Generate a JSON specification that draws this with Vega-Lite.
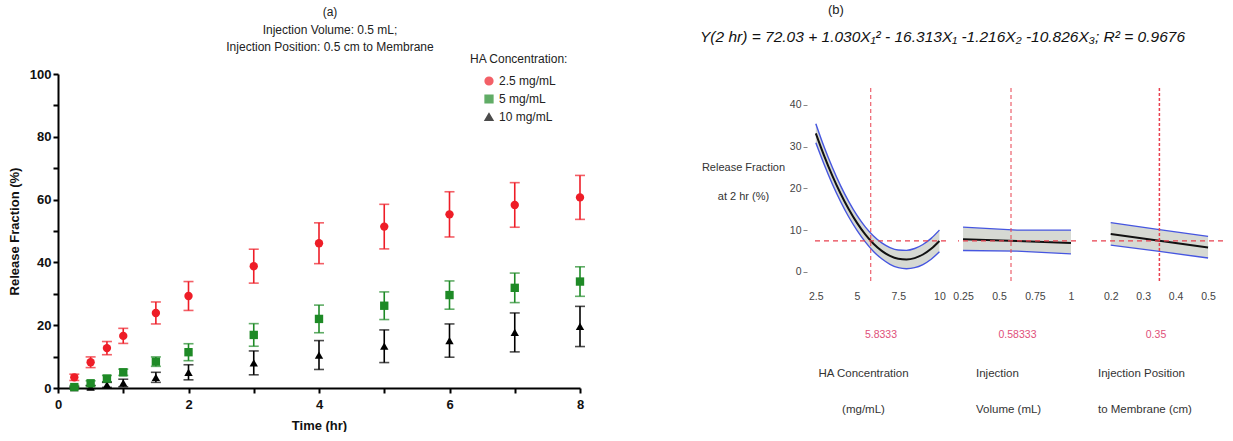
{
  "$schema": "https://vega.github.io/schema/vega-lite/v6.json",
  "background": "white",
  "padding": {"left": 8, "top": 3, "right": 4, "bottom": 0},
  "config": {"view": {"stroke": null}, "axis": {"grid": false}},
  "datasets": {
    "release": [
      {"t": 0.25, "conc": "10 mg/mL", "val": 0.1, "err": 0.3},
      {"t": 0.5, "conc": "10 mg/mL", "val": 0.3, "err": 0.5},
      {"t": 0.75, "conc": "10 mg/mL", "val": 1.0, "err": 0.8},
      {"t": 1, "conc": "10 mg/mL", "val": 1.6, "err": 1.2},
      {"t": 1.5, "conc": "10 mg/mL", "val": 3.4, "err": 1.6},
      {"t": 2, "conc": "10 mg/mL", "val": 5.0, "err": 2.4},
      {"t": 3, "conc": "10 mg/mL", "val": 8.0, "err": 3.8},
      {"t": 4, "conc": "10 mg/mL", "val": 10.5, "err": 4.6},
      {"t": 5, "conc": "10 mg/mL", "val": 13.3, "err": 5.2},
      {"t": 6, "conc": "10 mg/mL", "val": 15.1, "err": 5.3},
      {"t": 7, "conc": "10 mg/mL", "val": 17.7, "err": 6.2},
      {"t": 8, "conc": "10 mg/mL", "val": 19.6, "err": 6.4},
      {"t": 0.25, "conc": "5 mg/mL", "val": 0.3, "err": 0.5},
      {"t": 0.5, "conc": "5 mg/mL", "val": 1.5, "err": 0.8},
      {"t": 0.75, "conc": "5 mg/mL", "val": 3.0, "err": 1.0},
      {"t": 1, "conc": "5 mg/mL", "val": 5.0, "err": 1.0},
      {"t": 1.5, "conc": "5 mg/mL", "val": 8.4, "err": 1.5},
      {"t": 2, "conc": "5 mg/mL", "val": 11.4, "err": 2.7},
      {"t": 3, "conc": "5 mg/mL", "val": 16.9, "err": 3.6},
      {"t": 4, "conc": "5 mg/mL", "val": 22.0, "err": 4.4},
      {"t": 5, "conc": "5 mg/mL", "val": 26.2, "err": 4.4},
      {"t": 6, "conc": "5 mg/mL", "val": 29.6, "err": 4.5},
      {"t": 7, "conc": "5 mg/mL", "val": 31.9, "err": 4.7},
      {"t": 8, "conc": "5 mg/mL", "val": 33.9, "err": 4.7},
      {"t": 0.25, "conc": "2.5 mg/mL", "val": 3.4, "err": 1.0},
      {"t": 0.5, "conc": "2.5 mg/mL", "val": 8.2, "err": 1.7},
      {"t": 0.75, "conc": "2.5 mg/mL", "val": 12.7, "err": 2.1},
      {"t": 1, "conc": "2.5 mg/mL", "val": 16.6, "err": 2.4},
      {"t": 1.5, "conc": "2.5 mg/mL", "val": 23.9, "err": 3.5},
      {"t": 2, "conc": "2.5 mg/mL", "val": 29.3, "err": 4.6},
      {"t": 3, "conc": "2.5 mg/mL", "val": 38.8, "err": 5.4},
      {"t": 4, "conc": "2.5 mg/mL", "val": 46.1, "err": 6.5},
      {"t": 5, "conc": "2.5 mg/mL", "val": 51.4, "err": 7.1},
      {"t": 6, "conc": "2.5 mg/mL", "val": 55.3, "err": 7.2},
      {"t": 7, "conc": "2.5 mg/mL", "val": 58.3, "err": 7.1},
      {"t": 8, "conc": "2.5 mg/mL", "val": 60.7, "err": 7.0}
    ],
    "p1": [
      {"x": 2.5, "y": 33.19, "lo": 30.9, "hi": 35.5},
      {"x": 3, "y": 27.86, "lo": 25.76, "hi": 29.96},
      {"x": 3.5, "y": 23.05, "lo": 21.05, "hi": 25.05},
      {"x": 4, "y": 18.76, "lo": 16.86, "hi": 20.66},
      {"x": 4.5, "y": 14.98, "lo": 13.13, "hi": 16.83},
      {"x": 5, "y": 11.72, "lo": 9.92, "hi": 13.52},
      {"x": 5.5, "y": 8.97, "lo": 7.17, "hi": 10.77},
      {"x": 6, "y": 6.73, "lo": 4.88, "hi": 8.58},
      {"x": 6.5, "y": 5.02, "lo": 3.12, "hi": 6.92},
      {"x": 7, "y": 3.81, "lo": 1.81, "hi": 5.81},
      {"x": 7.5, "y": 3.12, "lo": 1.02, "hi": 5.22},
      {"x": 8, "y": 2.95, "lo": 0.75, "hi": 5.15},
      {"x": 8.5, "y": 3.29, "lo": 0.99, "hi": 5.59},
      {"x": 9, "y": 4.15, "lo": 1.75, "hi": 6.55},
      {"x": 9.5, "y": 5.52, "lo": 3.02, "hi": 8.02},
      {"x": 10, "y": 7.40, "lo": 4.8, "hi": 10.0}
    ],
    "p2": [
      {"x": 0.25, "y": 7.83, "lo": 5.1, "hi": 10.7},
      {"x": 0.625, "y": 7.37, "lo": 4.95, "hi": 10.0},
      {"x": 1, "y": 6.91, "lo": 4.3, "hi": 10.0}
    ],
    "p3": [
      {"x": 0.2, "y": 9.05, "lo": 6.4, "hi": 11.8},
      {"x": 0.35, "y": 7.42, "lo": 4.9, "hi": 10.1},
      {"x": 0.5, "y": 5.80, "lo": 3.3, "hi": 8.5}
    ],
    "c1": [{"xref": 5.8333, "yref": 7.42, "ylo": -2.2, "yhi": 44.3}],
    "c2": [{"xref": 0.58333, "yref": 7.42, "ylo": -2.2, "yhi": 44.3}],
    "c3": [{"xref": 0.35, "yref": 7.42, "ylo": -2.2, "yhi": 44.3}]
  },
  "spacing": 115,
  "hconcat": [
    {
      "width": 522,
      "height": 314,
      "title": {"text": ["(a)", "Injection Volume: 0.5 mL;", "Injection Position: 0.5 cm to Membrane"], "font": "Liberation Sans", "fontSize": 12, "fontWeight": "normal", "color": "#222", "lineHeight": 17.5, "anchor": "middle", "frame": "group", "dx": 11, "offset": 14},
      "data": {"name": "release"},
      "layer": [
        {
          "mark": {"type": "errorbar", "ticks": {"size": 10, "thickness": 1.6}, "thickness": 1.6},
          "encoding": {
            "x": {"field": "t", "type": "quantitative", "scale": {"domain": [0, 8], "nice": false}, "axis": {"title": "Time (hr)", "values": [0, 1, 2, 3, 4, 5, 6, 7, 8], "labelExpr": "datum.value % 2 === 0 ? datum.label : ''", "labelFlush": false, "domainColor": "#000", "domainWidth": 2, "tickColor": "#000", "tickWidth": 2, "tickSize": 5, "labelFont": "Liberation Sans", "labelFontSize": 13, "labelFontWeight": "bold", "labelColor": "#111", "labelPadding": 5, "titleFont": "Liberation Sans", "titleFontSize": 13, "titleFontWeight": "bold", "titleColor": "#111", "titlePadding": 8}},
            "y": {"field": "val", "type": "quantitative", "scale": {"domain": [0, 100], "nice": false}, "axis": {"title": "Release Fraction (%)", "values": [0, 10, 20, 30, 40, 50, 60, 70, 80, 90, 100], "labelExpr": "datum.value % 20 === 0 ? datum.label : ''", "domainColor": "#000", "domainWidth": 2, "tickColor": "#000", "tickWidth": 2, "tickSize": 5, "labelFont": "Liberation Sans", "labelFontSize": 13, "labelFontWeight": "bold", "labelColor": "#111", "labelPadding": 2, "titleFont": "Liberation Sans", "titleFontSize": 13, "titleFontWeight": "bold", "titleColor": "#111", "titlePadding": 8}},
            "yError": {"field": "err"},
            "color": {"field": "conc", "type": "nominal", "scale": {"domain": ["2.5 mg/mL", "5 mg/mL", "10 mg/mL"], "range": ["#ee1d27", "#1e8a26", "#000000"]}}
          }
        },
        {
          "mark": {"type": "point", "filled": true, "size": 70, "opacity": 1},
          "encoding": {
            "x": {"field": "t", "type": "quantitative", "scale": {"domain": [0, 8], "nice": false}, "axis": {"title": "Time (hr)", "values": [0, 1, 2, 3, 4, 5, 6, 7, 8], "labelExpr": "datum.value % 2 === 0 ? datum.label : ''", "labelFlush": false, "domainColor": "#000", "domainWidth": 2, "tickColor": "#000", "tickWidth": 2, "tickSize": 5, "labelFont": "Liberation Sans", "labelFontSize": 13, "labelFontWeight": "bold", "labelColor": "#111", "labelPadding": 5, "titleFont": "Liberation Sans", "titleFontSize": 13, "titleFontWeight": "bold", "titleColor": "#111", "titlePadding": 8}},
            "y": {"field": "val", "type": "quantitative", "scale": {"domain": [0, 100], "nice": false}, "axis": {"title": "Release Fraction (%)", "values": [0, 10, 20, 30, 40, 50, 60, 70, 80, 90, 100], "labelExpr": "datum.value % 20 === 0 ? datum.label : ''", "domainColor": "#000", "domainWidth": 2, "tickColor": "#000", "tickWidth": 2, "tickSize": 5, "labelFont": "Liberation Sans", "labelFontSize": 13, "labelFontWeight": "bold", "labelColor": "#111", "labelPadding": 2, "titleFont": "Liberation Sans", "titleFontSize": 13, "titleFontWeight": "bold", "titleColor": "#111", "titlePadding": 8}},
            "color": {"field": "conc", "type": "nominal", "scale": {"domain": ["2.5 mg/mL", "5 mg/mL", "10 mg/mL"], "range": ["#ee1d27", "#1e8a26", "#000000"]}, "legend": {"orient": "none", "legendX": 412, "legendY": -20, "title": "HA Concentration:", "titleFont": "Liberation Sans", "titleFontSize": 12, "titleFontWeight": "normal", "titleColor": "#222", "titlePadding": 9, "labelFont": "Liberation Sans", "labelFontSize": 12, "labelColor": "#222", "symbolSize": 60, "rowPadding": 4, "symbolOffset": 13}},
            "shape": {"field": "conc", "type": "nominal", "scale": {"domain": ["2.5 mg/mL", "5 mg/mL", "10 mg/mL"], "range": ["circle", "square", "triangle-up"]}, "legend": {"orient": "none", "legendX": 412, "legendY": -20, "title": "HA Concentration:", "titleFont": "Liberation Sans", "titleFontSize": 12, "titleFontWeight": "normal", "titleColor": "#222", "titlePadding": 9, "labelFont": "Liberation Sans", "labelFontSize": 12, "labelColor": "#222", "symbolSize": 60, "rowPadding": 4, "symbolOffset": 13}}
          }
        }
      ]
    },
    {
      "title": {"text": "(b)", "anchor": "start", "frame": "bounds", "dx": 128, "font": "Liberation Sans", "fontSize": 13, "fontWeight": "normal", "color": "#222", "offset": 13},
      "vconcat": [
        {
          "title": {"text": "Y(2 hr) = 72.03 + 1.030X₁² - 16.313X₁ -1.216X₂ -10.826X₃; R² = 0.9676", "font": "Liberation Sans", "fontStyle": "italic", "fontSize": 15.5, "fontWeight": "normal", "color": "#111", "anchor": "middle", "frame": "bounds", "dx": -20, "offset": 29},
          "spacing": 12,
          "bounds": "flush",
          "hconcat": [
            {
              "width": 131,
              "height": 207,
              "title": {"text": ["HA Concentration", "(mg/mL)"], "orient": "bottom", "anchor": "middle", "frame": "group", "dx": -17, "font": "Liberation Sans", "fontSize": 11.5, "fontWeight": "normal", "color": "#333", "lineHeight": 36, "offset": 28},
              "layer": [
                {"data": {"name": "p1"}, "mark": {"type": "area", "color": "#d6d9d3", "interpolate": "monotone"},
                 "encoding": {
                   "x": {"field": "x", "type": "quantitative", "scale": {"domain": [2.45, 10.4], "nice": false, "zero": false}, "axis": {"title": "5.8333", "values": [2.5, 5, 7.5, 10], "labelExpr": "datum.value + ''", "labelFlush": false, "domain": false, "ticks": false, "tickSize": 0, "labelPadding": 10, "labelFont": "Liberation Sans", "labelFontSize": 10.5, "labelColor": "#444", "titleFont": "Liberation Sans", "titleFontSize": 10.5, "titleFontWeight": "normal", "titleColor": "#e0507a", "titlePadding": 28}},
                   "y": {"field": "lo", "type": "quantitative", "scale": {"domain": [-2.2, 47.4], "nice": false, "zero": false}, "axis": {"title": ["Release Fraction", "at 2 hr (%)"], "titleAngle": 0, "titleAlign": "center", "titleBaseline": "middle", "titleX": -64, "titleY": 93, "titleLineHeight": 29, "titleFont": "Liberation Sans", "titleFontSize": 11, "titleFontWeight": "normal", "titleColor": "#333", "values": [0, 10, 20, 30, 40], "domain": false, "offset": 8, "tickSize": 4, "tickColor": "#888", "labelPadding": 2, "labelFont": "Liberation Sans", "labelFontSize": 10.5, "labelColor": "#444"}},
                   "y2": {"field": "hi"}
                 }},
                {"data": {"name": "p1"}, "mark": {"type": "line", "color": "#4656e0", "strokeWidth": 1.4, "interpolate": "monotone"},
                 "encoding": {
                   "x": {"field": "x", "type": "quantitative", "scale": {"domain": [2.45, 10.4], "nice": false, "zero": false}, "axis": {"title": "5.8333", "values": [2.5, 5, 7.5, 10], "labelExpr": "datum.value + ''", "labelFlush": false, "domain": false, "ticks": false, "tickSize": 0, "labelPadding": 10, "labelFont": "Liberation Sans", "labelFontSize": 10.5, "labelColor": "#444", "titleFont": "Liberation Sans", "titleFontSize": 10.5, "titleFontWeight": "normal", "titleColor": "#e0507a", "titlePadding": 28}},
                   "y": {"field": "lo", "type": "quantitative", "scale": {"domain": [-2.2, 47.4], "nice": false, "zero": false}, "axis": {"title": ["Release Fraction", "at 2 hr (%)"], "titleAngle": 0, "titleAlign": "center", "titleBaseline": "middle", "titleX": -64, "titleY": 93, "titleLineHeight": 29, "titleFont": "Liberation Sans", "titleFontSize": 11, "titleFontWeight": "normal", "titleColor": "#333", "values": [0, 10, 20, 30, 40], "domain": false, "offset": 8, "tickSize": 4, "tickColor": "#888", "labelPadding": 2, "labelFont": "Liberation Sans", "labelFontSize": 10.5, "labelColor": "#444"}}
                 }},
                {"data": {"name": "p1"}, "mark": {"type": "line", "color": "#4656e0", "strokeWidth": 1.4, "interpolate": "monotone"},
                 "encoding": {
                   "x": {"field": "x", "type": "quantitative", "scale": {"domain": [2.45, 10.4], "nice": false, "zero": false}, "axis": {"title": "5.8333", "values": [2.5, 5, 7.5, 10], "labelExpr": "datum.value + ''", "labelFlush": false, "domain": false, "ticks": false, "tickSize": 0, "labelPadding": 10, "labelFont": "Liberation Sans", "labelFontSize": 10.5, "labelColor": "#444", "titleFont": "Liberation Sans", "titleFontSize": 10.5, "titleFontWeight": "normal", "titleColor": "#e0507a", "titlePadding": 28}},
                   "y": {"field": "hi", "type": "quantitative", "scale": {"domain": [-2.2, 47.4], "nice": false, "zero": false}, "axis": {"title": ["Release Fraction", "at 2 hr (%)"], "titleAngle": 0, "titleAlign": "center", "titleBaseline": "middle", "titleX": -64, "titleY": 93, "titleLineHeight": 29, "titleFont": "Liberation Sans", "titleFontSize": 11, "titleFontWeight": "normal", "titleColor": "#333", "values": [0, 10, 20, 30, 40], "domain": false, "offset": 8, "tickSize": 4, "tickColor": "#888", "labelPadding": 2, "labelFont": "Liberation Sans", "labelFontSize": 10.5, "labelColor": "#444"}}
                 }},
                {"data": {"name": "p1"}, "mark": {"type": "line", "color": "#111111", "strokeWidth": 2, "interpolate": "monotone"},
                 "encoding": {
                   "x": {"field": "x", "type": "quantitative", "scale": {"domain": [2.45, 10.4], "nice": false, "zero": false}, "axis": {"title": "5.8333", "values": [2.5, 5, 7.5, 10], "labelExpr": "datum.value + ''", "labelFlush": false, "domain": false, "ticks": false, "tickSize": 0, "labelPadding": 10, "labelFont": "Liberation Sans", "labelFontSize": 10.5, "labelColor": "#444", "titleFont": "Liberation Sans", "titleFontSize": 10.5, "titleFontWeight": "normal", "titleColor": "#e0507a", "titlePadding": 28}},
                   "y": {"field": "y", "type": "quantitative", "scale": {"domain": [-2.2, 47.4], "nice": false, "zero": false}, "axis": {"title": ["Release Fraction", "at 2 hr (%)"], "titleAngle": 0, "titleAlign": "center", "titleBaseline": "middle", "titleX": -64, "titleY": 93, "titleLineHeight": 29, "titleFont": "Liberation Sans", "titleFontSize": 11, "titleFontWeight": "normal", "titleColor": "#333", "values": [0, 10, 20, 30, 40], "domain": false, "offset": 8, "tickSize": 4, "tickColor": "#888", "labelPadding": 2, "labelFont": "Liberation Sans", "labelFontSize": 10.5, "labelColor": "#444"}}
                 }},
                {"data": {"name": "c1"}, "mark": {"type": "rule", "color": "#e8404f", "strokeDash": [5, 4], "strokeWidth": 1.2},
                 "encoding": {
                   "y": {"field": "yref", "type": "quantitative", "scale": {"domain": [-2.2, 47.4], "nice": false, "zero": false}, "axis": {"title": ["Release Fraction", "at 2 hr (%)"], "titleAngle": 0, "titleAlign": "center", "titleBaseline": "middle", "titleX": -64, "titleY": 93, "titleLineHeight": 29, "titleFont": "Liberation Sans", "titleFontSize": 11, "titleFontWeight": "normal", "titleColor": "#333", "values": [0, 10, 20, 30, 40], "domain": false, "offset": 8, "tickSize": 4, "tickColor": "#888", "labelPadding": 2, "labelFont": "Liberation Sans", "labelFontSize": 10.5, "labelColor": "#444"}}
                 }},
                {"data": {"name": "c1"}, "mark": {"type": "rule", "color": "#e8404f", "strokeDash": [4, 3], "strokeWidth": 1},
                 "encoding": {
                   "x": {"field": "xref", "type": "quantitative", "scale": {"domain": [2.45, 10.4], "nice": false, "zero": false}, "axis": {"title": "5.8333", "values": [2.5, 5, 7.5, 10], "labelExpr": "datum.value + ''", "labelFlush": false, "domain": false, "ticks": false, "tickSize": 0, "labelPadding": 10, "labelFont": "Liberation Sans", "labelFontSize": 10.5, "labelColor": "#444", "titleFont": "Liberation Sans", "titleFontSize": 10.5, "titleFontWeight": "normal", "titleColor": "#e0507a", "titlePadding": 28}},
                   "y": {"field": "ylo", "type": "quantitative", "scale": {"domain": [-2.2, 47.4], "nice": false, "zero": false}, "axis": {"title": ["Release Fraction", "at 2 hr (%)"], "titleAngle": 0, "titleAlign": "center", "titleBaseline": "middle", "titleX": -64, "titleY": 93, "titleLineHeight": 29, "titleFont": "Liberation Sans", "titleFontSize": 11, "titleFontWeight": "normal", "titleColor": "#333", "values": [0, 10, 20, 30, 40], "domain": false, "offset": 8, "tickSize": 4, "tickColor": "#888", "labelPadding": 2, "labelFont": "Liberation Sans", "labelFontSize": 10.5, "labelColor": "#444"}},
                   "y2": {"field": "yhi"}
                 }}
              ]
            },
            {
              "width": 118,
              "height": 207,
              "title": {"text": ["Injection", "Volume (mL)"], "orient": "bottom", "anchor": "start", "align": "left", "frame": "group", "dx": 18, "font": "Liberation Sans", "fontSize": 11.5, "fontWeight": "normal", "color": "#333", "lineHeight": 36, "offset": 28},
              "layer": [
                {"data": {"name": "p2"}, "mark": {"type": "area", "color": "#d6d9d3"},
                 "encoding": {
                   "x": {"field": "x", "type": "quantitative", "scale": {"domain": [0.215, 1.035], "nice": false, "zero": false}, "axis": {"title": "0.58333", "values": [0.25, 0.5, 0.75, 1], "labelExpr": "datum.value + ''", "labelFlush": false, "domain": false, "ticks": false, "tickSize": 0, "labelPadding": 10, "labelFont": "Liberation Sans", "labelFontSize": 10.5, "labelColor": "#444", "titleFont": "Liberation Sans", "titleFontSize": 10.5, "titleFontWeight": "normal", "titleColor": "#e0507a", "titlePadding": 28}},
                   "y": {"field": "lo", "type": "quantitative", "scale": {"domain": [-2.2, 47.4], "nice": false, "zero": false}, "axis": null},
                   "y2": {"field": "hi"}
                 }},
                {"data": {"name": "p2"}, "mark": {"type": "line", "color": "#4656e0", "strokeWidth": 1.4},
                 "encoding": {
                   "x": {"field": "x", "type": "quantitative", "scale": {"domain": [0.215, 1.035], "nice": false, "zero": false}, "axis": {"title": "0.58333", "values": [0.25, 0.5, 0.75, 1], "labelExpr": "datum.value + ''", "labelFlush": false, "domain": false, "ticks": false, "tickSize": 0, "labelPadding": 10, "labelFont": "Liberation Sans", "labelFontSize": 10.5, "labelColor": "#444", "titleFont": "Liberation Sans", "titleFontSize": 10.5, "titleFontWeight": "normal", "titleColor": "#e0507a", "titlePadding": 28}},
                   "y": {"field": "lo", "type": "quantitative", "scale": {"domain": [-2.2, 47.4], "nice": false, "zero": false}, "axis": null}
                 }},
                {"data": {"name": "p2"}, "mark": {"type": "line", "color": "#4656e0", "strokeWidth": 1.4},
                 "encoding": {
                   "x": {"field": "x", "type": "quantitative", "scale": {"domain": [0.215, 1.035], "nice": false, "zero": false}, "axis": {"title": "0.58333", "values": [0.25, 0.5, 0.75, 1], "labelExpr": "datum.value + ''", "labelFlush": false, "domain": false, "ticks": false, "tickSize": 0, "labelPadding": 10, "labelFont": "Liberation Sans", "labelFontSize": 10.5, "labelColor": "#444", "titleFont": "Liberation Sans", "titleFontSize": 10.5, "titleFontWeight": "normal", "titleColor": "#e0507a", "titlePadding": 28}},
                   "y": {"field": "hi", "type": "quantitative", "scale": {"domain": [-2.2, 47.4], "nice": false, "zero": false}, "axis": null}
                 }},
                {"data": {"name": "p2"}, "mark": {"type": "line", "color": "#111111", "strokeWidth": 2},
                 "encoding": {
                   "x": {"field": "x", "type": "quantitative", "scale": {"domain": [0.215, 1.035], "nice": false, "zero": false}, "axis": {"title": "0.58333", "values": [0.25, 0.5, 0.75, 1], "labelExpr": "datum.value + ''", "labelFlush": false, "domain": false, "ticks": false, "tickSize": 0, "labelPadding": 10, "labelFont": "Liberation Sans", "labelFontSize": 10.5, "labelColor": "#444", "titleFont": "Liberation Sans", "titleFontSize": 10.5, "titleFontWeight": "normal", "titleColor": "#e0507a", "titlePadding": 28}},
                   "y": {"field": "y", "type": "quantitative", "scale": {"domain": [-2.2, 47.4], "nice": false, "zero": false}, "axis": null}
                 }},
                {"data": {"name": "c2"}, "mark": {"type": "rule", "color": "#e8404f", "strokeDash": [5, 4], "strokeWidth": 1.2},
                 "encoding": {
                   "y": {"field": "yref", "type": "quantitative", "scale": {"domain": [-2.2, 47.4], "nice": false, "zero": false}, "axis": null}
                 }},
                {"data": {"name": "c2"}, "mark": {"type": "rule", "color": "#e8404f", "strokeDash": [4, 3], "strokeWidth": 1},
                 "encoding": {
                   "x": {"field": "xref", "type": "quantitative", "scale": {"domain": [0.215, 1.035], "nice": false, "zero": false}, "axis": {"title": "0.58333", "values": [0.25, 0.5, 0.75, 1], "labelExpr": "datum.value + ''", "labelFlush": false, "domain": false, "ticks": false, "tickSize": 0, "labelPadding": 10, "labelFont": "Liberation Sans", "labelFontSize": 10.5, "labelColor": "#444", "titleFont": "Liberation Sans", "titleFontSize": 10.5, "titleFontWeight": "normal", "titleColor": "#e0507a", "titlePadding": 28}},
                   "y": {"field": "ylo", "type": "quantitative", "scale": {"domain": [-2.2, 47.4], "nice": false, "zero": false}, "axis": null},
                   "y2": {"field": "yhi"}
                 }}
              ]
            },
            {
              "width": 135,
              "height": 207,
              "title": {"text": ["Injection Position", "to Membrane (cm)"], "orient": "bottom", "anchor": "start", "align": "left", "frame": "group", "dx": 10, "font": "Liberation Sans", "fontSize": 11.5, "fontWeight": "normal", "color": "#333", "lineHeight": 36, "offset": 28},
              "layer": [
                {"data": {"name": "p3"}, "mark": {"type": "area", "color": "#d6d9d3"},
                 "encoding": {
                   "x": {"field": "x", "type": "quantitative", "scale": {"domain": [0.13, 0.546], "nice": false, "zero": false}, "axis": {"title": "0.35", "values": [0.2, 0.3, 0.4, 0.5], "labelExpr": "datum.value + ''", "labelFlush": false, "domain": false, "ticks": false, "tickSize": 0, "labelPadding": 10, "labelFont": "Liberation Sans", "labelFontSize": 10.5, "labelColor": "#444", "titleFont": "Liberation Sans", "titleFontSize": 10.5, "titleFontWeight": "normal", "titleColor": "#e0507a", "titlePadding": 28}},
                   "y": {"field": "lo", "type": "quantitative", "scale": {"domain": [-2.2, 47.4], "nice": false, "zero": false}, "axis": null},
                   "y2": {"field": "hi"}
                 }},
                {"data": {"name": "p3"}, "mark": {"type": "line", "color": "#4656e0", "strokeWidth": 1.4},
                 "encoding": {
                   "x": {"field": "x", "type": "quantitative", "scale": {"domain": [0.13, 0.546], "nice": false, "zero": false}, "axis": {"title": "0.35", "values": [0.2, 0.3, 0.4, 0.5], "labelExpr": "datum.value + ''", "labelFlush": false, "domain": false, "ticks": false, "tickSize": 0, "labelPadding": 10, "labelFont": "Liberation Sans", "labelFontSize": 10.5, "labelColor": "#444", "titleFont": "Liberation Sans", "titleFontSize": 10.5, "titleFontWeight": "normal", "titleColor": "#e0507a", "titlePadding": 28}},
                   "y": {"field": "lo", "type": "quantitative", "scale": {"domain": [-2.2, 47.4], "nice": false, "zero": false}, "axis": null}
                 }},
                {"data": {"name": "p3"}, "mark": {"type": "line", "color": "#4656e0", "strokeWidth": 1.4},
                 "encoding": {
                   "x": {"field": "x", "type": "quantitative", "scale": {"domain": [0.13, 0.546], "nice": false, "zero": false}, "axis": {"title": "0.35", "values": [0.2, 0.3, 0.4, 0.5], "labelExpr": "datum.value + ''", "labelFlush": false, "domain": false, "ticks": false, "tickSize": 0, "labelPadding": 10, "labelFont": "Liberation Sans", "labelFontSize": 10.5, "labelColor": "#444", "titleFont": "Liberation Sans", "titleFontSize": 10.5, "titleFontWeight": "normal", "titleColor": "#e0507a", "titlePadding": 28}},
                   "y": {"field": "hi", "type": "quantitative", "scale": {"domain": [-2.2, 47.4], "nice": false, "zero": false}, "axis": null}
                 }},
                {"data": {"name": "p3"}, "mark": {"type": "line", "color": "#111111", "strokeWidth": 2},
                 "encoding": {
                   "x": {"field": "x", "type": "quantitative", "scale": {"domain": [0.13, 0.546], "nice": false, "zero": false}, "axis": {"title": "0.35", "values": [0.2, 0.3, 0.4, 0.5], "labelExpr": "datum.value + ''", "labelFlush": false, "domain": false, "ticks": false, "tickSize": 0, "labelPadding": 10, "labelFont": "Liberation Sans", "labelFontSize": 10.5, "labelColor": "#444", "titleFont": "Liberation Sans", "titleFontSize": 10.5, "titleFontWeight": "normal", "titleColor": "#e0507a", "titlePadding": 28}},
                   "y": {"field": "y", "type": "quantitative", "scale": {"domain": [-2.2, 47.4], "nice": false, "zero": false}, "axis": null}
                 }},
                {"data": {"name": "c3"}, "mark": {"type": "rule", "color": "#e8404f", "strokeDash": [5, 4], "strokeWidth": 1.2},
                 "encoding": {
                   "y": {"field": "yref", "type": "quantitative", "scale": {"domain": [-2.2, 47.4], "nice": false, "zero": false}, "axis": null}
                 }},
                {"data": {"name": "c3"}, "mark": {"type": "rule", "color": "#e8404f", "strokeDash": [3, 2], "strokeWidth": 1.5},
                 "encoding": {
                   "x": {"field": "xref", "type": "quantitative", "scale": {"domain": [0.13, 0.546], "nice": false, "zero": false}, "axis": {"title": "0.35", "values": [0.2, 0.3, 0.4, 0.5], "labelExpr": "datum.value + ''", "labelFlush": false, "domain": false, "ticks": false, "tickSize": 0, "labelPadding": 10, "labelFont": "Liberation Sans", "labelFontSize": 10.5, "labelColor": "#444", "titleFont": "Liberation Sans", "titleFontSize": 10.5, "titleFontWeight": "normal", "titleColor": "#e0507a", "titlePadding": 28}},
                   "y": {"field": "ylo", "type": "quantitative", "scale": {"domain": [-2.2, 47.4], "nice": false, "zero": false}, "axis": null},
                   "y2": {"field": "yhi"}
                 }}
              ]
            }
          ]
        }
      ]
    }
  ]
}
